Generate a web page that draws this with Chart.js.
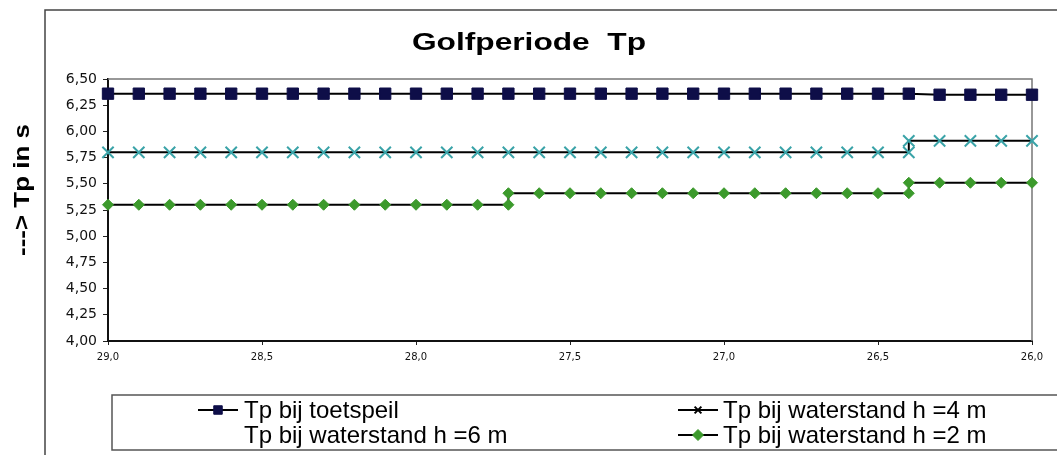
<!DOCTYPE html>
<html lang="nl">
<head>
<meta charset="UTF-8">
<title>Golfperiode Tp</title>
<script src="https://cdn.jsdelivr.net/npm/chart.js"></script>
<style>
  html, body { margin: 0; padding: 0; background: #fff; }
  #golfChart { display: block; }
</style>
</head>
<body>
<canvas id="golfChart" width="1057" height="455"></canvas>
<script>
// raaien (x) en golfperiode Tp (s) per waterstand
const xToetspeil = [29.0, 28.9, 28.8, 28.7, 28.6, 28.5, 28.4, 28.3, 28.2, 28.1, 28.0,
                    27.9, 27.8, 27.7, 27.6, 27.5, 27.4, 27.3, 27.2, 27.1, 27.0,
                    26.9, 26.8, 26.7, 26.6, 26.5, 26.4, 26.3, 26.2, 26.1, 26.0];
const tpToetspeil = [6.36, 6.36, 6.36, 6.36, 6.36, 6.36, 6.36, 6.36, 6.36, 6.36, 6.36,
                     6.36, 6.36, 6.36, 6.36, 6.36, 6.36, 6.36, 6.36, 6.36, 6.36,
                     6.36, 6.36, 6.36, 6.36, 6.36, 6.36, 6.35, 6.35, 6.35, 6.35];

const xH4 = [29.0, 28.9, 28.8, 28.7, 28.6, 28.5, 28.4, 28.3, 28.2, 28.1, 28.0,
             27.9, 27.8, 27.7, 27.6, 27.5, 27.4, 27.3, 27.2, 27.1, 27.0,
             26.9, 26.8, 26.7, 26.6, 26.5, 26.4, 26.4, 26.3, 26.2, 26.1, 26.0];
const tpH4 = [5.80, 5.80, 5.80, 5.80, 5.80, 5.80, 5.80, 5.80, 5.80, 5.80, 5.80,
              5.80, 5.80, 5.80, 5.80, 5.80, 5.80, 5.80, 5.80, 5.80, 5.80,
              5.80, 5.80, 5.80, 5.80, 5.80, 5.80, 5.91, 5.91, 5.91, 5.91, 5.91];

const xH2 = [29.0, 28.9, 28.8, 28.7, 28.6, 28.5, 28.4, 28.3, 28.2, 28.1, 28.0,
             27.9, 27.8, 27.7, 27.7, 27.6, 27.5, 27.4, 27.3, 27.2, 27.1, 27.0,
             26.9, 26.8, 26.7, 26.6, 26.5, 26.4, 26.4, 26.3, 26.2, 26.1, 26.0];
const tpH2 = [5.30, 5.30, 5.30, 5.30, 5.30, 5.30, 5.30, 5.30, 5.30, 5.30, 5.30,
              5.30, 5.30, 5.30, 5.41, 5.41, 5.41, 5.41, 5.41, 5.41, 5.41, 5.41,
              5.41, 5.41, 5.41, 5.41, 5.41, 5.41, 5.51, 5.51, 5.51, 5.51, 5.51];

const xTickValues = [29.0, 28.5, 28.0, 27.5, 27.0, 26.5, 26.0];
const yTickValues = [4.00, 4.25, 4.50, 4.75, 5.00, 5.25, 5.50, 5.75, 6.00, 6.25, 6.50];

const toPoints = (xs, ys) => xs.map((x, i) => ({ x: x, y: ys[i] }));
const komma = (v, d) => Number(v).toFixed(d).replace('.', ',');

const datasets = [
  {
    label: 'Tp bij toetspeil',
    data: toPoints(xToetspeil, tpToetspeil),
    borderColor: '#000', borderWidth: 2,
    pointStyle: 'rect', pointRadius: 8,
    pointBackgroundColor: '#0e0e48', pointBorderColor: '#0e0e48', pointBorderWidth: 1
  },
  {
    label: 'Tp bij waterstand h =4 m',
    data: toPoints(xH4, tpH4),
    borderColor: '#000', borderWidth: 2,
    pointStyle: 'crossRot', pointRadius: 8,
    pointBackgroundColor: '#3aa3a8', pointBorderColor: '#3aa3a8', pointBorderWidth: 2
  },
  {
    // staat wel in de legenda, maar heeft geen lijn
    label: 'Tp bij waterstand h =6 m',
    data: [],
    borderWidth: 0, pointRadius: 0
  },
  {
    label: 'Tp bij waterstand h =2 m',
    data: toPoints(xH2, tpH2),
    borderColor: '#000', borderWidth: 2,
    pointStyle: 'rectRot', pointRadius: 5.5,
    pointBackgroundColor: '#3c9a2c', pointBorderColor: '#3c9a2c', pointBorderWidth: 1
  }
];

// gerekte tekst (het origineel is wat breder dan Arial)
function wideText(ctx, text, x, y, sx) {
  ctx.save();
  ctx.translate(x, y);
  ctx.scale(sx, 1);
  ctx.fillText(text, 0, 0);
  ctx.restore();
}

function drawMarker(ctx, ds, x, y) {
  const r = ds.pointRadius;
  ctx.save();
  ctx.fillStyle = ds.pointBackgroundColor;
  ctx.strokeStyle = ds.pointBorderColor;
  ctx.lineWidth = ds.pointBorderWidth;
  ctx.beginPath();
  if (ds.pointStyle === 'rect') {
    const s = r * Math.SQRT1_2;
    ctx.rect(x - s, y - s, 2 * s, 2 * s);
    ctx.fill(); ctx.stroke();
  } else if (ds.pointStyle === 'rectRot') {
    ctx.moveTo(x, y - r); ctx.lineTo(x + r, y); ctx.lineTo(x, y + r); ctx.lineTo(x - r, y);
    ctx.closePath();
    ctx.fill(); ctx.stroke();
  } else if (ds.pointStyle === 'crossRot') {
    // in de legenda is het kruisje zwart
    ctx.strokeStyle = '#000';
    const s = r * Math.SQRT1_2 * 0.8;
    ctx.moveTo(x - s, y - s); ctx.lineTo(x + s, y + s);
    ctx.moveTo(x - s, y + s); ctx.lineTo(x + s, y - s);
    ctx.stroke();
  }
  ctx.restore();
}

const decor = {
  id: 'decor',
  beforeDraw(chart) {
    const ctx = chart.ctx;
    ctx.save();
    ctx.fillStyle = '#fff';
    ctx.fillRect(0, 0, chart.width, chart.height);
    // kader om de grafiek
    ctx.strokeStyle = '#444';
    ctx.lineWidth = 1.5;
    ctx.beginPath();
    ctx.moveTo(45, chart.height);
    ctx.lineTo(45, 10);
    ctx.lineTo(chart.width, 10);
    ctx.stroke();
    ctx.restore();
  },
  beforeDatasetsDraw(chart) {
    const { ctx, chartArea: a } = chart;
    ctx.save();
    ctx.strokeStyle = '#777';
    ctx.lineWidth = 1.5;
    ctx.beginPath();
    ctx.moveTo(a.left, a.top);
    ctx.lineTo(a.right, a.top);
    ctx.lineTo(a.right, a.bottom);
    ctx.stroke();
    ctx.restore();
  },
  afterDraw(chart) {
    const ctx = chart.ctx;
    ctx.save();
    ctx.fillStyle = '#000';

    // titel
    ctx.font = 'bold 24px "Liberation Sans", Arial, sans-serif';
    ctx.textAlign = 'center';
    ctx.textBaseline = 'alphabetic';
    wideText(ctx, 'Golfperiode  Tp', 529, 50, 1.32);

    // y-as titel
    ctx.save();
    ctx.translate(23, 190);
    ctx.rotate(-Math.PI / 2);
    ctx.font = 'bold 22px "Liberation Sans", Arial, sans-serif';
    ctx.textBaseline = 'middle';
    wideText(ctx, '---> Tp in s', 0, 0, 1.18);
    ctx.restore();

    // legenda
    ctx.strokeStyle = '#555';
    ctx.lineWidth = 1.5;
    ctx.strokeRect(112, 395, chart.width, 55);
    ctx.font = '24px "Liberation Sans", Arial, sans-serif';
    ctx.textAlign = 'left';
    ctx.textBaseline = 'alphabetic';
    const cols = [{ sym: 198, txt: 244 }, { sym: 678, txt: 723 }];
    const rows = [418, 443];
    chart.data.datasets.forEach((ds, i) => {
      const c = cols[i % 2];
      const yb = rows[Math.floor(i / 2)];
      const ym = yb - 8;
      if (ds.data.length) {
        ctx.save();
        ctx.strokeStyle = '#000';
        ctx.lineWidth = 2;
        ctx.beginPath();
        ctx.moveTo(c.sym, ym);
        ctx.lineTo(c.sym + 40, ym);
        ctx.stroke();
        ctx.restore();
        drawMarker(ctx, { ...ds, pointRadius: Math.min(ds.pointRadius, 6) }, c.sym + 20, ym);
      }
      ctx.fillText(ds.label, c.txt, yb);
    });
    ctx.restore();
  }
};

new Chart(document.getElementById('golfChart'), {
  type: 'line',
  data: { datasets: datasets },
  options: {
    responsive: false,
    animation: false,
    events: [],
    layout: { padding: { top: 79, right: 25, left: 0, bottom: 0 } },
    elements: { line: { tension: 0 } },
    datasets: { line: { clip: false, fill: false } },
    plugins: {
      legend: { display: false },
      title: { display: false },
      tooltip: { enabled: false }
    },
    scales: {
      x: {
        type: 'linear',
        reverse: true,
        min: 26,
        max: 29,
        afterBuildTicks: s => { s.ticks = xTickValues.map(v => ({ value: v })); },
        afterFit: s => { s.height = 114; },
        ticks: {
          autoSkip: false,
          maxRotation: 0,
          padding: 6,
          color: '#111',
          font: { family: 'DejaVu Sans', size: 10 },
          callback: v => komma(v, 1)
        },
        grid: { drawOnChartArea: false, tickLength: 4, color: '#222', lineWidth: 1 },
        border: { color: '#111', width: 2 }
      },
      y: {
        min: 4,
        max: 6.5,
        afterBuildTicks: s => { s.ticks = yTickValues.map(v => ({ value: v })); },
        afterFit: s => { s.width = 108; },
        ticks: {
          padding: 6,
          color: '#111',
          font: { family: 'DejaVu Sans', size: 14 },
          callback: v => komma(v, 2)
        },
        grid: { drawOnChartArea: false, tickLength: 5, color: '#222', lineWidth: 1 },
        border: { color: '#111', width: 2 }
      }
    }
  },
  plugins: [decor]
});
</script>
</body>
</html>
